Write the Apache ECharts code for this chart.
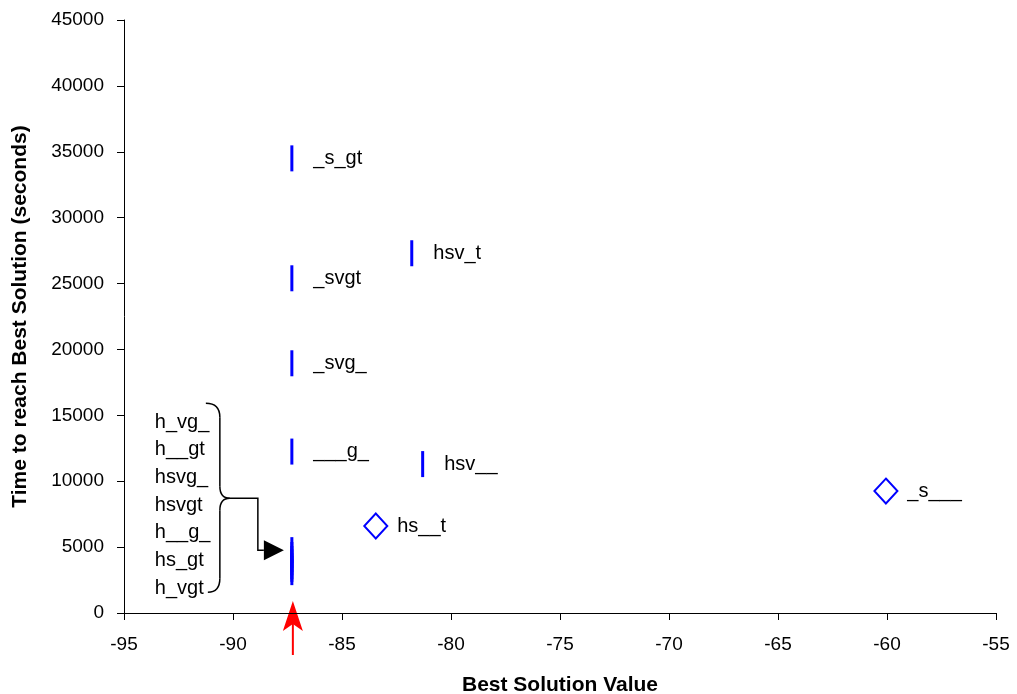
<!DOCTYPE html>
<html>
<head>
<meta charset="utf-8">
<script src="https://cdn.jsdelivr.net/npm/echarts@6/dist/echarts.min.js"></script>
<style>
  html, body { margin: 0; padding: 0; background: #fff; }
  #main { width: 1017px; height: 694px; }
</style>
</head>
<body>
<div id="main"></div>
<script>
// labelled runs drawn as vertical bars
var barNames = ["_s_gt", "hsv_t", "_svgt", "_svg_", "___g_", "hsv__"];
var barX = [-87.3, -81.8, -87.3, -87.3, -87.3, -81.3];
var barY = [34500, 27300, 25400, 18950, 12250, 11300];

// runs drawn as hollow diamonds
var diamondNames = ["hs__t", "_s___"];
var diamondX = [-83.45, -60.05];
var diamondY = [6600, 9250];

// seven runs stacked on top of each other, named by the bracket
var clusterNames = ["h_vg_", "h__gt", "hsvg_", "hsvgt", "h__g_", "hs_gt", "h_vgt"];
var clusterX = [-87.3, -87.3, -87.3, -87.3, -87.3, -87.3, -87.3];
var clusterY = [4770, 4400, 4100, 3850, 3550, 3350, 3100];

// value marked by the red arrow below the axis
var markedValue = -87.3;

var FONT = "'Liberation Sans', Arial, sans-serif";
var BLUE = "#0000ff";

function pts(names, xs, ys) {
  var out = [];
  for (var i = 0; i < xs.length; i++) {
    out.push({ name: names[i], value: [xs[i], ys[i]] });
  }
  return out;
}

function plain(v) {
  return String(v);
}

var chart = echarts.init(document.getElementById("main"));

var option = {
  animation: false,
  textStyle: { fontFamily: FONT, color: "#000" },
  grid: { left: 124, right: 21, top: 20, bottom: 81, containLabel: false, outerBoundsMode: "none" },
  xAxis: {
    type: "value",
    min: -95,
    max: -55,
    interval: 5,
    name: "Best Solution Value",
    nameLocation: "middle",
    nameGap: 62,
    nameTextStyle: { fontFamily: FONT, fontSize: 21, fontWeight: "bold", color: "#000" },
    axisLine: { onZero: false, lineStyle: { color: "#000", width: 1 } },
    axisTick: { length: 7, lineStyle: { color: "#000" } },
    axisLabel: { fontFamily: FONT, fontSize: 19, color: "#000", margin: 22, formatter: plain },
    splitLine: { show: false }
  },
  yAxis: {
    type: "value",
    min: 0,
    max: 45000,
    interval: 5000,
    name: "Time to reach Best Solution (seconds)",
    nameLocation: "middle",
    nameGap: 93,
    nameTextStyle: { fontFamily: FONT, fontSize: 21, fontWeight: "bold", color: "#000" },
    axisLine: { show: true, lineStyle: { color: "#000", width: 1 } },
    axisTick: { show: true, length: 7, lineStyle: { color: "#000" } },
    axisLabel: { fontFamily: FONT, fontSize: 19, color: "#000", margin: 20, formatter: plain },
    splitLine: { show: false }
  },
  series: [
    {
      type: "scatter",
      symbol: "rect",
      symbolSize: [3, 26],
      itemStyle: { color: BLUE, opacity: 1 },
      label: {
        show: true,
        position: "right",
        distance: 20,
        formatter: "{b}",
        fontFamily: FONT,
        fontSize: 20,
        color: "#000"
      },
      data: pts(barNames, barX, barY)
    },
    {
      type: "scatter",
      symbol: "diamond",
      symbolSize: [23, 25],
      itemStyle: { color: "#fff", borderColor: BLUE, borderWidth: 2, opacity: 1 },
      label: {
        show: true,
        position: "right",
        distance: 9,
        formatter: "{b}",
        fontFamily: FONT,
        fontSize: 20,
        color: "#000"
      },
      data: pts(diamondNames, diamondX, diamondY)
    },
    {
      type: "scatter",
      symbol: "rect",
      symbolSize: [3, 26],
      itemStyle: { color: BLUE, opacity: 1 },
      data: pts(clusterNames, clusterX, clusterY)
    }
  ]
};

chart.setOption(option);

// annotations placed from the chart's own scales
function drawNotes() {
  var top = chart.convertToPixel({ seriesIndex: 2 }, [clusterX[0], Math.max.apply(null, clusterY)]);
  var tx = top[0] - 8, ty = top[1];
  var bx = tx - 64; // brace spine
  var ink = { fill: null, stroke: "#000", lineWidth: 1.5 };
  var elements = [];

  // curly brace, drawn in pieces
  function curve(x1, y1, cx, cy, x2, y2) {
    elements.push({
      type: "bezierCurve",
      shape: { x1: x1, y1: y1, cpx1: cx, cpy1: cy, x2: x2, y2: y2 },
      style: ink
    });
  }
  function seg(x1, y1, x2, y2) {
    elements.push({ type: "line", shape: { x1: x1, y1: y1, x2: x2, y2: y2 }, style: ink });
  }
  curve(bx - 14, ty - 147, bx, ty - 147, bx, ty - 133);
  seg(bx, ty - 133, bx, ty - 64);
  curve(bx, ty - 64, bx, ty - 52, bx + 10, ty - 52);
  curve(bx + 10, ty - 52, bx, ty - 52, bx, ty - 40);
  seg(bx, ty - 40, bx, ty + 28);
  curve(bx, ty + 28, bx, ty + 42, bx - 12, ty + 42);

  // connector to the arrow
  elements.push({
    type: "polyline",
    shape: { points: [[bx + 10, ty - 52], [tx - 26, ty - 52], [tx - 26, ty], [tx - 20, ty]] },
    style: ink
  });
  elements.push({
    type: "polygon",
    shape: { points: [[tx - 20, ty - 10], [tx, ty], [tx - 20, ty + 10]] },
    style: { fill: "#000" }
  });
  // names of the stacked runs
  for (var i = 0; i < clusterNames.length; i++) {
    elements.push({
      type: "text",
      x: tx - 129,
      y: ty - 128 + i * 27.7,
      style: {
        text: clusterNames[i],
        fontFamily: FONT,
        fontSize: 20,
        fill: "#000",
        verticalAlign: "middle",
        align: "left"
      }
    });
  }

  // red arrow under the axis
  var ax = chart.convertToPixel({ xAxisIndex: 0 }, markedValue) + 1;
  var axisY = chart.convertToPixel({ yAxisIndex: 0 }, 0);
  elements.push({
    type: "line",
    shape: { x1: ax, y1: axisY + 10, x2: ax, y2: axisY + 42 },
    style: { stroke: "#ff0000", lineWidth: 2 }
  });
  elements.push({
    type: "polygon",
    shape: { points: [[ax, axisY - 12], [ax + 10, axisY + 18], [ax, axisY + 11], [ax - 10, axisY + 18]] },
    style: { fill: "#ff0000" }
  });

  chart.setOption({ graphic: { elements: elements } });
}

drawNotes();
window.addEventListener("resize", function () {
  chart.resize();
});
</script>
</body>
</html>
